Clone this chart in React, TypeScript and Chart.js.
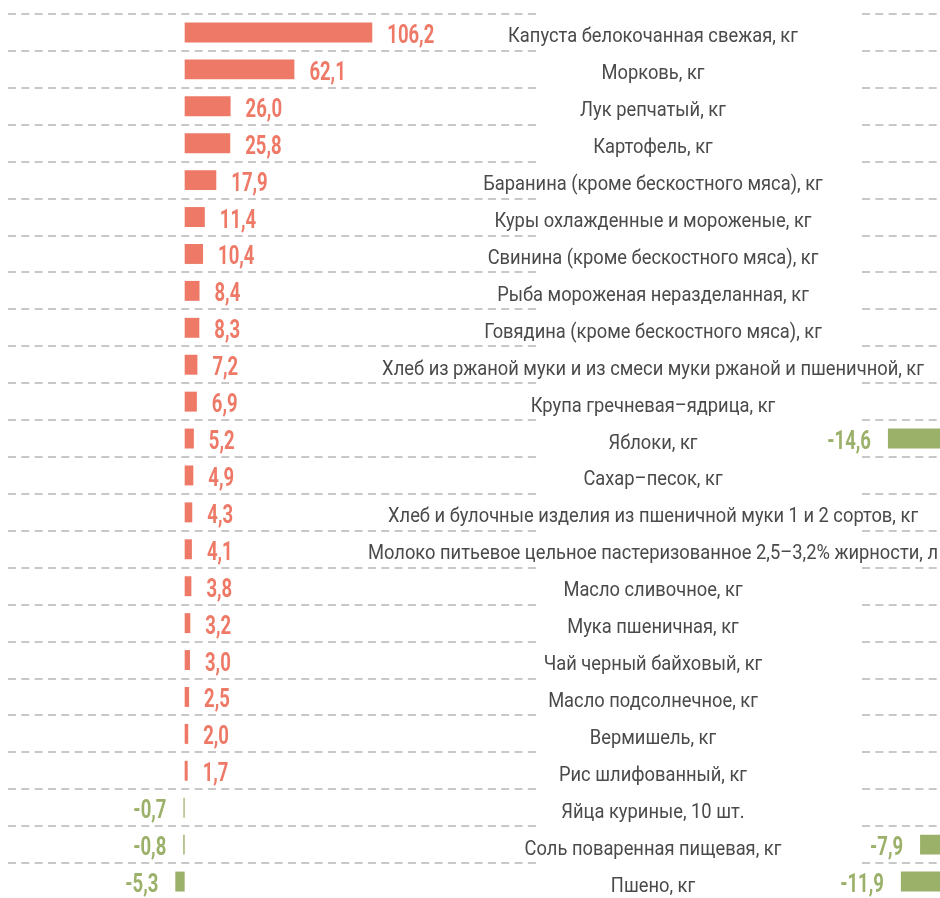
import React, { useEffect, useRef } from "react";
import { Chart, registerables } from "chart.js";

Chart.register(...registerables);

const categories: string[] = [
  "Капуста белокочанная свежая, кг",
  "Морковь, кг",
  "Лук репчатый, кг",
  "Картофель, кг",
  "Баранина (кроме бескостного мяса), кг",
  "Куры охлажденные и мороженые, кг",
  "Свинина (кроме бескостного мяса), кг",
  "Рыба мороженая неразделанная, кг",
  "Говядина (кроме бескостного мяса), кг",
  "Хлеб из ржаной муки и из смеси муки ржаной и пшеничной, кг",
  "Крупа гречневая–ядрица, кг",
  "Яблоки, кг",
  "Сахар–песок, кг",
  "Хлеб и булочные изделия из пшеничной муки 1 и 2 сортов, кг",
  "Молоко питьевое цельное пастеризованное 2,5–3,2% жирности, л",
  "Масло сливочное, кг",
  "Мука пшеничная, кг",
  "Чай черный байховый, кг",
  "Масло подсолнечное, кг",
  "Вермишель, кг",
  "Рис шлифованный, кг",
  "Яйца куриные, 10 шт.",
  "Соль поваренная пищевая, кг",
  "Пшено, кг",
];

const mainValues: number[] = [
  106.2, 62.1, 26.0, 25.8, 17.9, 11.4, 10.4, 8.4, 8.3, 7.2, 6.9, 5.2, 4.9, 4.3,
  4.1, 3.8, 3.2, 3.0, 2.5, 2.0, 1.7, -0.7, -0.8, -5.3,
];

const sideValues: (number | null)[] = [
  null, null, null, null, null, null, null, null, null, null, null, -14.6,
  null, null, null, null, null, null, null, null, null, null, -7.9, -11.9,
];

const mainRange = { min: -100, max: 200 };
const sideRange = { min: -20, max: 0 };

const SALMON = "#ee7967";
const GREEN = "#9bb068";
const GRID = "#c8c8c8";
const LABEL_COLOR = "#4a4a4a";

const fmt = (v: number) => v.toFixed(1).replace(".", ",");

function drawScaled(
  ctx: CanvasRenderingContext2D,
  text: string,
  x: number,
  y: number,
  align: CanvasTextAlign,
  sx: number
) {
  ctx.save();
  ctx.translate(x, y);
  ctx.scale(sx, 1);
  ctx.textAlign = align;
  ctx.textBaseline = "alphabetic";
  ctx.fillText(text, 0, 0);
  ctx.restore();
}

const VALUE_FONT = "bold 25px Roboto";
function valueScale(ctx: CanvasRenderingContext2D) {
  ctx.save();
  ctx.font = VALUE_FONT;
  const w = ctx.measureText("106,2").width;
  ctx.restore();
  return 47 / w;
}

const valueLabelsPlugin = {
  id: "valueLabels",
  afterDatasetsDraw(chart: any) {
    const ctx: CanvasRenderingContext2D = chart.ctx;
    const meta = chart.getDatasetMeta(0);
    const data = chart.data.datasets[0].data as (number | null)[];
    const sx = valueScale(ctx);
    ctx.save();
    ctx.font = VALUE_FONT;
    meta.data.forEach((el: any, i: number) => {
      const v = data[i];
      if (v === null || v === undefined) return;
      ctx.fillStyle = v >= 0 ? SALMON : GREEN;
      if (v >= 0) drawScaled(ctx, fmt(v), el.x + 15, el.y + 10.5, "left", sx);
      else drawScaled(ctx, fmt(v), el.x - 17, el.y + 10.5, "right", sx);
    });
    ctx.restore();
  },
};

const categoryLabelsPlugin = {
  id: "categoryLabels",
  afterDraw(chart: any) {
    const ctx: CanvasRenderingContext2D = chart.ctx;
    const yScale = chart.scales.y;
    ctx.save();
    ctx.font = "20px Roboto";
    const ref = ctx.measureText(categories[14]).width;
    const sx = 570 / ref;
    ctx.fillStyle = LABEL_COLOR;
    const cx = 645;
    categories.forEach((c, i) => {
      const y = yScale.getPixelForValue(i);
      drawScaled(ctx, c, cx, y + 10, "center", sx);
    });
    ctx.restore();
  },
};

function baseOptions(range: { min: number; max: number }, padding: any) {
  return {
    indexAxis: "y" as const,
    animation: false as const,
    responsive: false,
    maintainAspectRatio: false,
    layout: { padding },
    plugins: { legend: { display: false }, tooltip: { enabled: false } },
    scales: {
      x: { display: false, min: range.min, max: range.max },
      y: {
        display: true,
        offset: true,
        ticks: { display: false },
        grid: { color: GRID, lineWidth: 2, drawTicks: false, offset: true },
        border: { display: false, dash: [8, 5.33] },
        afterFit: (s: any) => {
          s.width = 0;
        },
      },
    },
  };
}

export default function App() {
  const mainRef = useRef<HTMLCanvasElement>(null);
  const sideRef = useRef<HTMLCanvasElement>(null);

  useEffect(() => {
    const main = new Chart(mainRef.current as HTMLCanvasElement, {
      type: "bar",
      data: {
        labels: categories,
        datasets: [
          {
            data: mainValues,
            backgroundColor: mainValues.map((v) => (v >= 0 ? SALMON : GREEN)),
            borderWidth: 0,
            barPercentage: 0.54,
            categoryPercentage: 1,
          },
        ],
      },
      options: baseOptions(mainRange, { top: 14, right: 402, bottom: 3, left: 0 }) as any,
      plugins: [valueLabelsPlugin, categoryLabelsPlugin],
    });
    const side = new Chart(sideRef.current as HTMLCanvasElement, {
      type: "bar",
      data: {
        labels: categories,
        datasets: [
          {
            data: sideValues,
            backgroundColor: GREEN,
            borderWidth: 0,
            barPercentage: 0.54,
            categoryPercentage: 1,
          },
        ],
      },
      options: baseOptions(sideRange, { top: 14, right: 0, bottom: 3, left: 62 }) as any,
      plugins: [valueLabelsPlugin],
    });
    return () => {
      main.destroy();
      side.destroy();
    };
  }, []);

  return (
    <div
      style={{
        position: "fixed",
        left: 0,
        top: 0,
        width: 940,
        height: 898,
        overflow: "hidden",
        background: "#fff",
      }}
    >
      <canvas
        ref={mainRef}
        width={932}
        height={903}
        style={{ position: "absolute", left: 8, top: 0, width: 932, height: 903 }}
      />
      <canvas
        ref={sideRef}
        width={158}
        height={903}
        style={{ position: "absolute", left: 800, top: 0, width: 158, height: 903 }}
      />
    </div>
  );
}
